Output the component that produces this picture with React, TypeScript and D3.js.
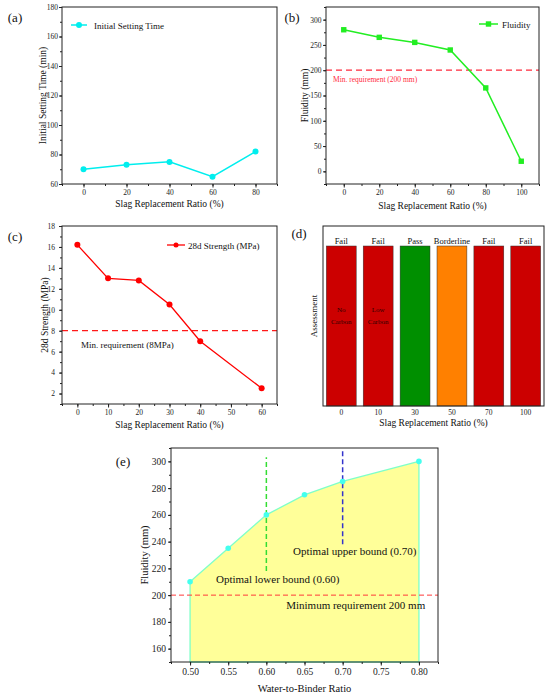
import { useEffect, useRef } from 'react';
import * as d3 from 'd3';

// (a) initial setting time
const settingRatio = [0, 20, 40, 60, 80];
const settingTime = [70, 73, 75, 65, 82];

// (b) fluidity vs slag
const fluidRatio = [0, 20, 40, 60, 80, 100];
const fluidity = [280, 265, 255, 240, 165, 20];

// (c) 28d strength
const strengthRatio = [0, 10, 20, 30, 40, 60];
const strength = [16.2, 13.0, 12.8, 10.5, 7.0, 2.5];

// (d) assessment
const assessCats = ['0', '10', '30', '50', '70', '100'];
const assessLabels = ['Fail', 'Fail', 'Pass', 'Borderline', 'Fail', 'Fail'];
const assessNotes = [['No', 'Carbon'], ['Low', 'Carbon'], [], [], [], []];
const assessColors = ['#cc0000', '#cc0000', '#008f00', '#ff8000', '#cc0000', '#cc0000'];

// (e) fluidity vs water-to-binder
const wbRatio = [0.5, 0.55, 0.6, 0.65, 0.7, 0.8];
const wbFluidity = [210, 235, 260, 275, 285, 300];

const FONT = '"Liberation Serif", "Times New Roman", serif';

type Box = { l: number; r: number; t: number; b: number };
type G = d3.Selection<SVGGElement, unknown, null, undefined>;

function frame(g: G, box: Box) {
  g.append('rect')
    .attr('x', box.l).attr('y', box.t)
    .attr('width', box.r - box.l).attr('height', box.b - box.t)
    .attr('fill', 'none').attr('stroke', '#222').attr('stroke-width', 1);
}

function axes(
  g: G, box: Box,
  x: d3.ScaleLinear<number, number>, y: d3.ScaleLinear<number, number>,
  xTicks: number[], xMinor: number[], yTicks: number[], yMinor: number[],
  fontSize: number, yPad: number, fmtX: (d: number) => string = String
) {
  const style = (sel: G) => {
    sel.select('.domain').remove();
    sel.selectAll('.tick line').attr('stroke', '#222');
    sel.selectAll('.tick text').attr('font-family', FONT).attr('font-size', fontSize).attr('fill', '#222');
  };
  g.append('g').attr('transform', `translate(0,${box.b})`)
    .call(d3.axisBottom(x).tickValues(xMinor).tickSize(2).tickFormat(() => '')).call(style);
  g.append('g').attr('transform', `translate(0,${box.b})`)
    .call(d3.axisBottom(x).tickValues(xTicks).tickSize(3.5).tickPadding(2.5).tickFormat(d => fmtX(+d))).call(style);
  g.append('g').attr('transform', `translate(${box.l},0)`)
    .call(d3.axisLeft(y).tickValues(yMinor).tickSize(2).tickFormat(() => '')).call(style);
  g.append('g').attr('transform', `translate(${box.l},0)`)
    .call(d3.axisLeft(y).tickValues(yTicks).tickSize(3).tickPadding(yPad).tickFormat(d => String(d))).call(style);
}

function label(g: G, text: string, x: number, y: number, size: number, opts: { rotate?: boolean; anchor?: string; fill?: string } = {}) {
  const t = g.append('text')
    .attr('font-family', FONT).attr('font-size', size)
    .attr('fill', opts.fill ?? '#111')
    .attr('text-anchor', opts.anchor ?? 'middle')
    .text(text);
  if (opts.rotate) t.attr('transform', `translate(${x},${y}) rotate(-90)`);
  else t.attr('x', x).attr('y', y);
  return t;
}

function range(a: number, b: number, s: number) {
  return d3.range(Math.round((b - a) / s) + 1).map(i => +(a + i * s).toFixed(4));
}

export default function App() {
  const ref = useRef<SVGSVGElement>(null);

  useEffect(() => {
    if (!ref.current) return;
    const svg = d3.select(ref.current);
    svg.selectAll('*').remove();
    const root = svg.append('g') as G;

    // ---------- (a) ----------
    {
      const box = { l: 62, r: 277, t: 7, b: 184 };
      const x = d3.scaleLinear().domain([-10, 90]).range([box.l, box.r]);
      const y = d3.scaleLinear().domain([60, 180]).range([box.b, box.t]);
      const g = root.append('g') as G;
      axes(g, box, x, y, range(0, 80, 20), range(-10, 90, 10), range(60, 180, 20), range(60, 180, 10), 7.5, 1);
      const color = '#00eeee';
      const pts = settingRatio.map((r, i) => [r, settingTime[i]] as [number, number]);
      g.append('path').datum(pts)
        .attr('d', d3.line().x(d => x(d[0])).y(d => y(d[1])))
        .attr('fill', 'none').attr('stroke', color).attr('stroke-width', 1.5);
      g.selectAll('.m').data(pts).join('circle')
        .attr('cx', d => x(d[0])).attr('cy', d => y(d[1])).attr('r', 3).attr('fill', color);
      g.append('line').attr('x1', 71).attr('x2', 87).attr('y1', 25).attr('y2', 25).attr('stroke', color).attr('stroke-width', 1.5);
      g.append('circle').attr('cx', 79).attr('cy', 25).attr('r', 3).attr('fill', color);
      label(g, 'Initial Setting Time', 94, 28.5, 9, { anchor: 'start' });
      frame(g, box);
      label(g, 'Slag Replacement Ratio (%)', (box.l + box.r) / 2, 207, 9.5);
      label(g, 'Initial Setting Time (min)', 45.5, (box.t + box.b) / 2, 9.5, { rotate: true });
      label(g, '(a)', 15, 22, 13);
    }

    // ---------- (b) ----------
    {
      const box = { l: 326, r: 539, t: 7, b: 184 };
      const x = d3.scaleLinear().domain([-10, 110]).range([box.l, box.r]);
      const y = d3.scaleLinear().domain([-25, 325]).range([box.b, box.t]);
      const g = root.append('g') as G;
      axes(g, box, x, y, range(0, 100, 20), range(-10, 110, 10), range(0, 300, 50), range(-25, 325, 25), 7.5, 1.5);
      const color = '#22ee22';
      g.append('line').attr('x1', box.l).attr('x2', box.r).attr('y1', y(200)).attr('y2', y(200))
        .attr('stroke', '#ff2a3c').attr('stroke-width', 1.3).attr('stroke-dasharray', '6,4');
      label(g, 'Min. requirement (200 mm)', 333, 82, 7.5, { anchor: 'start', fill: '#ff2a3c' });
      const pts = fluidRatio.map((r, i) => [r, fluidity[i]] as [number, number]);
      g.append('path').datum(pts)
        .attr('d', d3.line().x(d => x(d[0])).y(d => y(d[1])))
        .attr('fill', 'none').attr('stroke', color).attr('stroke-width', 1.5);
      g.selectAll('.m').data(pts).join('rect')
        .attr('x', d => x(d[0]) - 2.7).attr('y', d => y(d[1]) - 2.7).attr('width', 5.4).attr('height', 5.4).attr('fill', color);
      g.append('line').attr('x1', 479).attr('x2', 498).attr('y1', 24).attr('y2', 24).attr('stroke', color).attr('stroke-width', 1.5);
      g.append('rect').attr('x', 485.8).attr('y', 21.3).attr('width', 5.4).attr('height', 5.4).attr('fill', color);
      label(g, 'Fluidity', 502, 27.5, 9, { anchor: 'start' });
      frame(g, box);
      label(g, 'Slag Replacement Ratio (%)', (box.l + box.r) / 2, 209, 9.5);
      label(g, 'Fluidity (mm)', 308, (box.t + box.b) / 2, 9.5, { rotate: true });
      label(g, '(b)', 292, 22, 13);
    }

    // ---------- (c) ----------
    {
      const box = { l: 62, r: 277, t: 226, b: 404 };
      const x = d3.scaleLinear().domain([-5, 65]).range([box.l, box.r]);
      const y = d3.scaleLinear().domain([1, 18]).range([box.b, box.t]);
      const g = root.append('g') as G;
      axes(g, box, x, y, range(0, 60, 10), range(-5, 65, 5), range(2, 18, 2), range(1, 18, 1), 7.5, 4);
      const color = '#ff0000';
      g.append('line').attr('x1', box.l).attr('x2', box.r).attr('y1', y(8)).attr('y2', y(8))
        .attr('stroke', '#ff1a1a').attr('stroke-width', 1.3).attr('stroke-dasharray', '6,4');
      label(g, 'Min. requirement (8MPa)', 81, 347.5, 9, { anchor: 'start' });
      const pts = strengthRatio.map((r, i) => [r, strength[i]] as [number, number]);
      g.append('path').datum(pts)
        .attr('d', d3.line().x(d => x(d[0])).y(d => y(d[1])))
        .attr('fill', 'none').attr('stroke', color).attr('stroke-width', 1.3);
      g.selectAll('.m').data(pts).join('circle')
        .attr('cx', d => x(d[0])).attr('cy', d => y(d[1])).attr('r', 3).attr('fill', color);
      g.append('line').attr('x1', 167).attr('x2', 185).attr('y1', 245).attr('y2', 245).attr('stroke', color).attr('stroke-width', 1.3);
      g.append('circle').attr('cx', 176).attr('cy', 245).attr('r', 2.5).attr('fill', color);
      label(g, '28d Strength (MPa)', 188, 248.5, 9, { anchor: 'start' });
      frame(g, box);
      label(g, 'Slag Replacement Ratio (%)', (box.l + box.r) / 2, 428, 9.5);
      label(g, '28d Strength (MPa)', 47.5, (box.t + box.b) / 2, 9.5, { rotate: true });
      label(g, '(c)', 15, 241, 13);
    }

    // ---------- (d) ----------
    {
      const box = { l: 323, r: 544, t: 226, b: 406 };
      const x = d3.scaleBand().domain(assessCats).range([box.l, box.r]).paddingInner(0.19).paddingOuter(0.09);
      const yTop = 246;
      const g = root.append('g') as G;
      g.selectAll('.bar').data(assessCats).join('rect')
        .attr('x', d => x(d)!).attr('y', yTop)
        .attr('width', x.bandwidth()).attr('height', box.b - yTop)
        .attr('fill', (_, i) => assessColors[i]).attr('stroke', '#333').attr('stroke-width', 0.5);
      assessCats.forEach((c, i) => {
        const cx = x(c)! + x.bandwidth() / 2;
        label(g, assessLabels[i], cx, 243.5, 8.5);
        assessNotes[i].forEach((n, j) => label(g, n, cx, 312 + j * 12, 7, { fill: '#2a0000' }));
      });
      const ax = g.append('g').attr('transform', `translate(0,${box.b})`)
        .call(d3.axisBottom(x).tickSize(0).tickPadding(4)) as unknown as G;
      ax.select('.domain').remove();
      ax.selectAll('.tick text').attr('font-family', FONT).attr('font-size', 7.5).attr('fill', '#222');
      frame(g, box);
      label(g, 'Slag Replacement Ratio (%)', (box.l + box.r) / 2, 426, 9.5);
      label(g, 'Assessment', 317, (box.t + box.b) / 2, 9, { rotate: true });
      label(g, '(d)', 299, 238, 13);
    }

    // ---------- (e) ----------
    {
      const box = { l: 171, r: 438, t: 448, b: 662 };
      const x = d3.scaleLinear().domain([0.475, 0.825]).range([box.l, box.r]);
      const y = d3.scaleLinear().domain([150, 310]).range([box.b, box.t]);
      const g = root.append('g') as G;
      const pts = wbRatio.map((r, i) => [r, wbFluidity[i]] as [number, number]);
      const lineColor = '#7fffc8';
      g.append('path').datum(pts)
        .attr('d', d3.area<[number, number]>().x(d => x(d[0])).y0(y(150)).y1(d => y(d[1])))
        .attr('fill', '#ffff99').attr('stroke', lineColor).attr('stroke-width', 1.3);
      g.append('line').attr('x1', box.l).attr('x2', box.r).attr('y1', y(200)).attr('y2', y(200))
        .attr('stroke', '#ff3a3a').attr('stroke-width', 1).attr('stroke-dasharray', '5,3');
      g.append('line').attr('x1', x(0.6)).attr('x2', x(0.6)).attr('y1', y(218)).attr('y2', y(303))
        .attr('stroke', '#33dd33').attr('stroke-width', 1.5).attr('stroke-dasharray', '5,3');
      g.append('line').attr('x1', x(0.7)).attr('x2', x(0.7)).attr('y1', y(238)).attr('y2', y(308))
        .attr('stroke', '#3333cc').attr('stroke-width', 1.5).attr('stroke-dasharray', '5,3');
      g.selectAll('.m').data(pts).join('circle')
        .attr('cx', d => x(d[0])).attr('cy', d => y(d[1])).attr('r', 2.8).attr('fill', '#44ffee');
      label(g, 'Optimal upper bound (0.70)', x(0.635), y(230), 11, { anchor: 'start' });
      label(g, 'Optimal lower bound (0.60)', x(0.534), y(209), 11, { anchor: 'start' });
      label(g, 'Minimum requirement 200 mm', x(0.626), y(190), 11, { anchor: 'start' });
      axes(g, box, x, y, range(0.5, 0.8, 0.05), range(0.475, 0.825, 0.025), range(160, 300, 20), range(150, 310, 10), 9.5, 2, d => d.toFixed(2));
      frame(g, box);
      label(g, 'Water-to-Binder Ratio', (box.l + box.r) / 2, 692, 10.5);
      label(g, 'Fluidity (mm)', 148, (box.t + box.b) / 2, 10.5, { rotate: true });
      label(g, '(e)', 123, 466, 13);
    }
  }, []);

  return (
    <svg
      ref={ref}
      width={550}
      height={696}
      style={{ position: 'absolute', left: 0, top: 0, background: '#fff' }}
    />
  );
}
